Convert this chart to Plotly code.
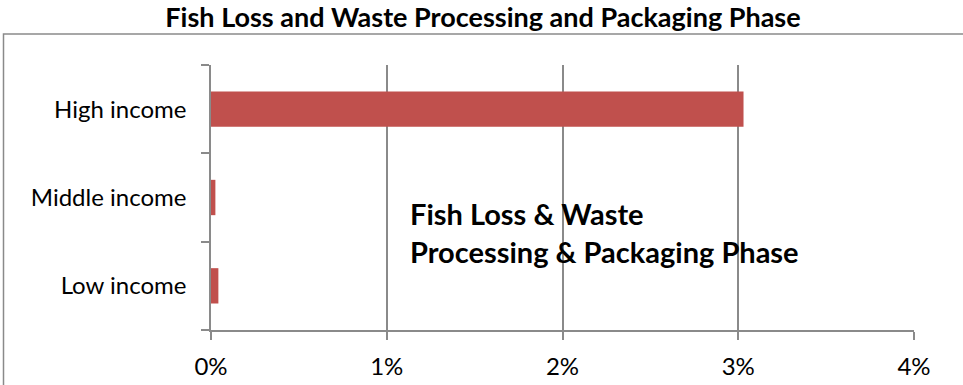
import plotly.graph_objects as go

categories = ["Low income", "Middle income", "High income"]
values = [0.00042, 0.00025, 0.0303]
x_ticks = [0, 0.01, 0.02, 0.03, 0.04]
x_tick_labels = ["0%", "1%", "2%", "3%", "4%"]

W, H = 963, 385
L, R, T, B = 211, 49, 65, 55
pw, ph = W - L - R, H - T - B

def px_x(p):
    return (p - L) / pw

def px_y(p):
    return (H - B - p) / ph

grid = "#8a8a8a"
font = "Lato"

fig = go.Figure(go.Bar(
    x=values, y=categories, orientation="h",
    marker=dict(color="#C0504D", line=dict(width=0)),
    width=0.4,
))

fig.update_layout(
    width=W, height=H,
    margin=dict(l=L, r=R, t=T, b=B, autoexpand=False),
    paper_bgcolor="white", plot_bgcolor="white",
    showlegend=False,
    font=dict(family=font, color="#000000", size=24),
    title=dict(
        text="<b>Fish Loss and Waste Processing and Packaging Phase</b>",
        x=483 / W, xanchor="center", y=1 - 18 / H, yanchor="middle",
        font=dict(family=font, size=27, color="#000000"),
    ),
    xaxis=dict(
        range=[0, 0.04], tickvals=x_ticks, ticktext=x_tick_labels,
        showgrid=True, gridcolor=grid, gridwidth=1.5,
        showline=True, linecolor=grid, linewidth=1.5,
        ticks="outside", ticklen=8, tickcolor=grid, tickwidth=1.5,
        ticklabelstandoff=6, automargin=False,
        zeroline=False, fixedrange=True,
        tickfont=dict(family=font, size=24, color="#000000"),
    ),
    yaxis=dict(
        categoryorder="array", categoryarray=categories,
        showgrid=False, showline=True, linecolor=grid, linewidth=1.5,
        ticks="outside", ticklen=8, tickcolor=grid, tickwidth=1.5,
        tickson="boundaries", ticklabelstandoff=18, automargin=False,
        range=[-0.5, 2.5], fixedrange=True,
        tickfont=dict(family=font, size=24, color="#000000"),
    ),
    shapes=[dict(
        type="rect", xref="paper", yref="paper",
        x0=px_x(3.5), x1=px_x(975), y0=px_y(400), y1=px_y(34),
        line=dict(color="#8a8a8a", width=1.5), fillcolor="rgba(0,0,0,0)",
        layer="below",
    )],
    annotations=[dict(
        text="<b>Fish Loss &amp; Waste<br>Processing &amp; Packaging Phase</b>",
        xref="paper", yref="paper", x=px_x(408), y=px_y(232),
        xanchor="left", yanchor="middle", align="left", showarrow=False,
        font=dict(family=font, size=29, color="#000000"),
    )],
)

fig.write_html(
    "out.html",
    config={"displayModeBar": False},
    post_script="document.body.style.margin='0px';document.body.style.overflow='hidden';",
)
